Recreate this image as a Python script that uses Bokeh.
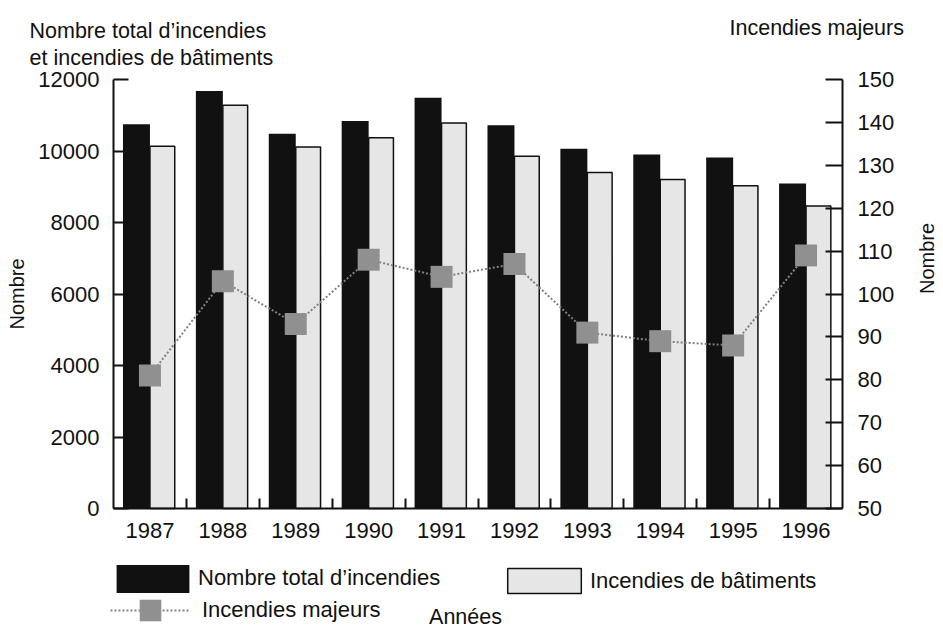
import math
from bokeh.plotting import figure
from bokeh.models import Range1d, LinearAxis, FixedTicker, Label, Legend, LegendItem
from bokeh.embed import file_html
from bokeh.resources import INLINE

# ---- data ----
years = ["1987", "1988", "1989", "1990", "1991", "1992", "1993", "1994", "1995", "1996"]
total_fires = [10750, 11680, 10480, 10840, 11490, 10720, 10060, 9900, 9820, 9090]
building_fires = [10130, 11280, 10110, 10370, 10780, 9850, 9400, 9200, 9030, 8460]
major_fires = [81, 103, 93, 108, 104, 107, 91, 89, 88, 109]
left_ticks = [0, 2000, 4000, 6000, 8000, 10000, 12000]
right_ticks = [50, 60, 70, 80, 90, 100, 110, 120, 130, 140, 150]

FONT = "Liberation Sans"
FS = "22px"
INK = "#111111"
W, H = 943, 628

n = len(years)
L_MIN, L_MAX = left_ticks[0], left_ticks[-1]
R_MIN, R_MAX = right_ticks[0], right_ticks[-1]

# pixel box of the data area (axes are drawn at its edges)
X0, X1, Y0, Y1 = 113.0, 842.0, 508.0, 79.0
def dx(px):
    return (px - X0) / (X1 - X0) * n
def dy(py):
    return (Y0 - py) / (Y0 - Y1) * (L_MAX - L_MIN) + L_MIN
def to_right(v):
    return R_MIN + (v - L_MIN) / (L_MAX - L_MIN) * (R_MAX - R_MIN)

p = figure(width=W, height=H, output_backend="svg", toolbar_location=None,
           x_range=Range1d(dx(0), dx(W)), y_range=Range1d(dy(H), dy(0)),
           x_axis_location=None, y_axis_location=None, min_border=0)
p.outline_line_color = None
p.grid.visible = False
p.background_fill_color = "white"
p.border_fill_color = "white"
p.extra_y_ranges = {"right": Range1d(to_right(dy(H)), to_right(dy(0)))}

# ---- axes ----
centers = [i + 0.5 for i in range(n)]
bounds = [float(i) for i in range(1, n)]
xaxis = LinearAxis(ticker=FixedTicker(ticks=centers, minor_ticks=bounds),
                   major_label_overrides={c: y for c, y in zip(centers, years)},
                   fixed_location=L_MIN, bounds=(0, n))
xaxis.major_tick_line_color = None
xaxis.major_tick_in = 0
xaxis.major_tick_out = 0
xaxis.minor_tick_in = 10
xaxis.minor_tick_out = 0
xaxis.minor_tick_line_width = 2
xaxis.minor_tick_line_color = INK
xaxis.axis_line_width = 2
xaxis.axis_line_color = INK
xaxis.major_label_standoff = 14
xaxis.major_label_text_font = FONT
xaxis.major_label_text_font_size = FS
xaxis.major_label_text_color = INK
p.add_layout(xaxis, "below")

yl = LinearAxis(ticker=FixedTicker(ticks=left_ticks, minor_ticks=[]), axis_label="Nombre",
                fixed_location=0, bounds=(L_MIN, L_MAX))
yr = LinearAxis(y_range_name="right", ticker=FixedTicker(ticks=right_ticks, minor_ticks=[]),
                axis_label="Nombre", fixed_location=n, bounds=(R_MIN, R_MAX))
for ax, tin, ls, als in ((yl, 15, 14, 7), (yr, 17, 15, 30)):
    ax.major_tick_in = tin
    ax.major_tick_out = 0
    ax.major_tick_line_width = 2
    ax.major_tick_line_color = INK
    ax.minor_tick_line_color = None
    ax.axis_line_width = 2
    ax.axis_line_color = INK
    ax.major_label_standoff = ls
    ax.major_label_text_font = FONT
    ax.major_label_text_font_size = FS
    ax.major_label_text_color = INK
    ax.axis_label_standoff = als
    ax.axis_label_text_font = FONT
    ax.axis_label_text_font_size = "20px"
    ax.axis_label_text_font_style = "normal"
    ax.axis_label_text_color = INK
yr.axis_label_orientation = math.pi / 2
p.add_layout(yl, "left")
p.add_layout(yr, "right")

# ---- marks ----
x_total = [i + 0.315 for i in range(n)]
x_build = [i + 0.67 for i in range(n)]
r_total = p.vbar(x=x_total, top=total_fires, bottom=0, width=0.37,
                 fill_color=INK, line_color=None)
r_build = p.vbar(x=x_build, top=building_fires, bottom=0, width=0.34,
                 fill_color="#e6e6e6", line_color=INK, line_width=1.5)
r_line = p.line(centers, major_fires, y_range_name="right",
                line_color="#808080", line_width=2, line_dash="2 2")
r_pts = p.scatter(centers, major_fires, y_range_name="right", marker="square",
                  size=22, fill_color="#909090", line_color=None)

# ---- legends (inside the canvas-wide frame, below the data area) ----
def add_legend(items, loc, gw, gh, standoff):
    lg = Legend(items=items, location=loc, glyph_width=gw, glyph_height=gh,
                label_standoff=standoff, padding=0, margin=0, spacing=0,
                border_line_color=None, background_fill_alpha=0,
                label_text_font=FONT, label_text_font_size=FS,
                label_text_color=INK, label_height=gh)
    p.add_layout(lg)

add_legend([LegendItem(label="Nombre total d\u2019incendies", renderers=[r_total])],
           (107, H - 595.5), 91, 35, 0)
add_legend([LegendItem(label="Incendies de b\u00e2timents", renderers=[r_build])],
           (498, H - 596), 92, 31, 0)
add_legend([LegendItem(label="Incendies majeurs", renderers=[r_line, r_pts])],
           (110, H - 637), 80, 54, 12)

# ---- texts ----
for txt, px, py, al in (("Nombre total d\u2019incendies", 29, 30, "left"),
                        ("et incendies de b\u00e2timents", 29, 57, "left"),
                        ("Incendies majeurs", 729, 27, "left"),
                        ("Ann\u00e9es", 465, 616, "center")):
    p.add_layout(Label(x=dx(px), y=dy(py), text=txt, text_align=al,
                       text_baseline="alphabetic", text_font=FONT,
                       text_font_size="21.5px", text_color=INK))

open("out.html", "w").write(file_html(p, INLINE))
